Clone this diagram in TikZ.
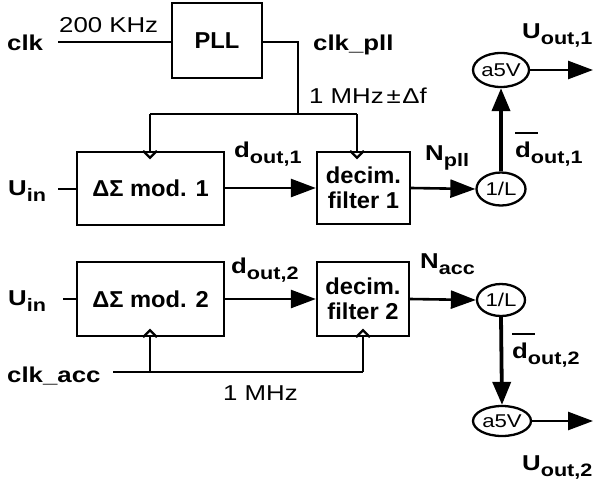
\documentclass[tikz,border=0pt]{standalone}
\usepackage{fontspec}
\setmainfont{Liberation Sans}[FakeStretch=1.03]
\newfontfamily\widefont{Liberation Sans}[FakeStretch=1.2]
\usetikzlibrary{arrows.meta,shapes.geometric}
\newcommand{\sbl}[2]{#1\raisebox{-6pt}{\fontsize{18}{18}\selectfont #2}}
\newcommand{\dbar}{\makebox[0pt][l]{\rule[23pt]{23pt}{2pt}}d}
\begin{document}
\begin{tikzpicture}[x=1pt,y=-1pt,
  box/.style={draw,line width=2.3pt,inner sep=0pt,font=\fontsize{23}{25}\selectfont\bfseries,align=center},
  oval/.style={draw,ellipse,line width=2.3pt,inner sep=0pt,font=\widefont\fontsize{18.5}{20}\selectfont},
  wire/.style={line width=2.6pt},
  arr/.style={line width=2.6pt,-{Triangle[length=25pt,width=18pt]}},
  thickarr/.style={line width=3.8pt,-{Triangle[length=23pt,width=18pt]}},
  lab/.style={inner sep=0pt,anchor=base west,font=\widefont\fontsize{21.5}{24}\selectfont\bfseries},
  plain/.style={inner sep=0pt,anchor=base west,font=\widefont\fontsize{21.5}{24}\selectfont},
  clock/.style={line width=2.3pt}
]
\useasboundingbox (0,0) rectangle (593,482);

% boxes
\node[box,minimum width=90pt,minimum height=75pt] (pll) at (217,40.5) {PLL};
\node[box,minimum width=147pt,minimum height=73pt] (ds1) at (150.5,188.5) {ΔΣ mod. 1};
\node[box,minimum width=93pt,minimum height=72pt] (dec1) at (363.5,188) {decim.\\filter 1};
\node[box,minimum width=147pt,minimum height=74pt] (ds2) at (150.5,299) {ΔΣ mod. 2};
\node[box,minimum width=92pt,minimum height=74pt] (dec2) at (363,299) {decim.\\filter 2};

% ovals
\node[oval,minimum width=49pt,minimum height=33pt] (inv1) at (501,189) {1/L};
\node[oval,minimum width=56pt,minimum height=34pt] (av1) at (501,70) {a5V};
\node[oval,minimum width=48pt,minimum height=32pt] (inv2) at (501,300) {1/L};
\node[oval,minimum width=58pt,minimum height=30pt] (av2) at (502,421) {a5V};

% labels
\node[lab] (clk) at (7,50) {clk};
\node[plain] (f200) at (59,32) {200 KHz};
\node[lab] (clkpll) at (313,50) {clk\_pll};
\node[plain] (f1) at (309,103) {1 MHz\hspace{3pt}±\hspace{1.5pt}Δf};
\node[lab] (uo1) at (522,38) {\sbl{U}{out,1}};
\node[lab] (db1) at (515,157) {\sbl{\dbar}{out,1}};
\node[lab] (npll) at (425,160) {\sbl{N}{pll}};
\node[lab] (do1) at (234,157) {\sbl{d}{out,1}};
\node[lab] (uin1) at (8,195) {\sbl{U}{in}};
\node[lab] (uin2) at (8,305) {\sbl{U}{in}};
\node[lab] (clkacc) at (7,382) {clk\_acc};
\node[plain] (f1b) at (223,400) {1 MHz};
\node[lab] (do2) at (231,273) {\sbl{d}{out,2}};
\node[lab] (nacc) at (420,268) {\sbl{N}{acc}};
\node[lab] (db2) at (512,358) {\sbl{\dbar}{out,2}};
\node[lab] (uo2) at (522,470) {\sbl{U}{out,2}};

% coordinates
\coordinate (clkin) at (58,42);
\coordinate (j1) at (298,114);
\coordinate (c1) at (150,114);
\coordinate (c2) at (357,114);
\coordinate (u1) at (58,189);
\coordinate (u2) at (63,299);
\coordinate (ca) at (113,372);
\coordinate (c3) at (150,372);
\coordinate (c4) at (363,372);
\coordinate (o1) at (593,70);
\coordinate (o2) at (593,421);

% wires
\draw[wire] (clkin) -- (clkin -| pll.west);
\draw[wire] (pll.east |- clkin) -| (j1);
\draw[wire] (c1) -- (c2);
\draw[wire] (c1) -- (c1 |- ds1.north);
\draw[wire] (c2) -- (c2 |- dec1.north);
\draw[wire] (u1) -- (u1 -| ds1.west);
\draw[wire] (u2) -- (u2 -| ds2.west);
\draw[wire] (ca) -- (c4);
\draw[wire] (c3) -- (c3 |- ds2.south);
\draw[wire] (c4) -- (c4 |- dec2.south);

% clock triangles
\draw[clock] ([xshift=-7pt]c1 |- ds1.north) -- ++(7,7) -- ++(7,-7);
\draw[clock] ([xshift=-7pt]c2 |- dec1.north) -- ++(7,7) -- ++(7,-7);
\draw[clock] ([xshift=-7pt]c3 |- ds2.south) -- ++(7,-7) -- ++(7,7);
\draw[clock] ([xshift=-7pt]c4 |- dec2.south) -- ++(7,-7) -- ++(7,7);

% arrows
\draw[arr] (ds1.east |- dec1.west) -- (dec1.west);
\draw[arr] (dec1.east) -- (inv1.west);
\draw[thickarr] (inv1.north) -- (av1.south);
\draw[arr] (av1.east) -- (o1);
\draw[arr] (ds2.east) -- (dec2.west);
\draw[arr] (dec2.east) -- (inv2.west);
\draw[thickarr] (inv2.south) -- (av2.north);
\draw[arr] (av2.east) -- (o2);
\end{tikzpicture}
\end{document}
